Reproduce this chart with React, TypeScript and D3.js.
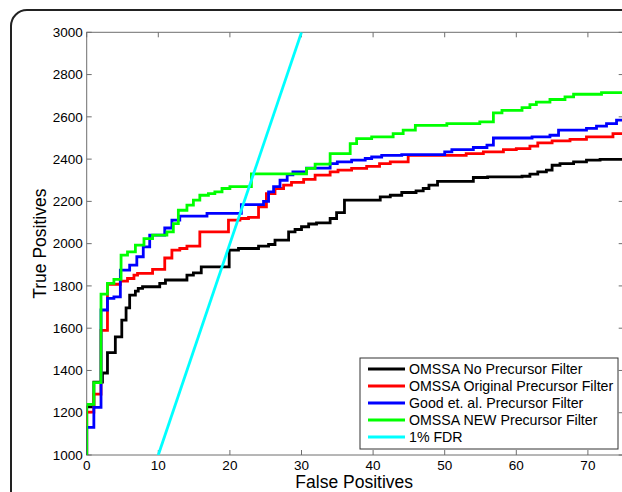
import React from 'react';
import * as d3 from 'd3';

// series as [false positives, true positives] step breakpoints
const noFilter: [number, number][] = [
  [0, 0], [0, 1228], [1, 1345], [2.2, 1388], [2.9, 1484], [4, 1559], [4.9, 1638], [5.5, 1696], [6, 1756],
  [6.8, 1775], [7.2, 1788], [7.8, 1796], [10.2, 1812], [11, 1828], [14, 1851], [14.9, 1862], [16, 1890],
  [19.9, 1969], [21.2, 1977], [24, 1988], [25.4, 1996], [26.3, 2017], [28.2, 2056], [29.1, 2067], [30, 2080],
  [31, 2093], [32.1, 2098], [34, 2119], [34.9, 2147], [36, 2206], [41, 2221], [42.4, 2229], [44, 2242],
  [46, 2250], [47, 2261], [47.8, 2277], [49, 2295], [54, 2313], [56, 2316], [60.8, 2319], [61.9, 2329],
  [63, 2340], [64.2, 2348], [65, 2371], [66.1, 2379], [68, 2387], [69.8, 2395], [71.7, 2399], [75, 2399],
];
const originalFilter: [number, number][] = [
  [0, 0], [0, 1203], [1, 1288], [2, 1590], [2.9, 1808], [4.7, 1823], [5.7, 1835], [6.6, 1851], [7.1, 1859],
  [9.2, 1878], [10.9, 1932], [11.9, 1969], [13, 1977], [14, 1988], [15.8, 2056], [19.8, 2111], [21.4, 2119],
  [22.6, 2124], [24, 2174], [25.1, 2237], [26.3, 2261], [27.5, 2277], [28.6, 2290], [30.3, 2304], [31.9, 2324],
  [34, 2340], [35.1, 2348], [37, 2356], [39.1, 2366], [40.9, 2379], [42.4, 2387], [44.9, 2418], [53, 2426],
  [55.4, 2434], [58.2, 2445], [60, 2450], [61.9, 2461], [63, 2477], [65, 2486], [67.5, 2493], [69.8, 2505],
  [73.5, 2521], [75, 2521],
];
const goodFilter: [number, number][] = [
  [0, 0], [0, 1131], [1, 1225], [2, 1686], [2.9, 1741], [3.8, 1748], [4.7, 1875], [6, 1898], [7, 1938],
  [7.9, 1985], [8.8, 2040], [10.9, 2074], [11.9, 2111], [13, 2130], [16.8, 2143], [21.6, 2185], [24.7, 2200],
  [25.4, 2245], [26.1, 2270], [27, 2300], [28, 2325], [28.8, 2340], [30.7, 2357], [34, 2379], [35, 2387],
  [37, 2395], [38.9, 2403], [39.8, 2410], [41.2, 2418], [44, 2421], [50, 2434], [51, 2445], [54, 2455],
  [55.9, 2466], [56.8, 2500], [62.2, 2505], [64.7, 2513], [65.9, 2537], [69.8, 2545], [71.2, 2556],
  [72.6, 2568], [74, 2584], [75, 2584],
];
const newFilter: [number, number][] = [
  [0, 0], [0, 1240], [1, 1342], [2, 1761], [2.9, 1812], [3.8, 1831], [4.8, 1946], [5.7, 1961], [6.8, 1993],
  [8, 2024], [9.2, 2040], [11.2, 2056], [12.1, 2095], [12.8, 2158], [14, 2182], [14.9, 2206], [15.8, 2229],
  [17, 2237], [17.9, 2245], [18.9, 2261], [20, 2270], [23, 2330], [30.7, 2356], [31.9, 2376], [34, 2426],
  [36.8, 2473], [37.7, 2497], [39.8, 2505], [42.8, 2521], [44.2, 2537], [45.9, 2560], [50.3, 2568],
  [54.9, 2576], [56.8, 2619], [58, 2631], [60.8, 2644], [61.9, 2658], [62.8, 2670], [64.7, 2682],
  [66.8, 2694], [68, 2707], [71.9, 2715], [75, 2715],
];
const fdrLine: [number, number][] = [[10, 1000], [30, 3000]];

const seriesNames = [
  'OMSSA No Precursor Filter',
  'OMSSA Original Precursor Filter',
  'Good et. al. Precursor Filter',
  'OMSSA NEW Precursor Filter',
  '1% FDR',
];
const seriesColors = ['#000000', '#ff0000', '#0000ff', '#00ff00', '#00ffff'];
const xTicks = [0, 10, 20, 30, 40, 50, 60, 70];
const yTicks = [1000, 1200, 1400, 1600, 1800, 2000, 2200, 2400, 2600, 2800, 3000];

const W = 622;
const H = 492;
const margin = { left: 86.7, top: 32.3, right: -1.7, bottom: 37 };
const font = '"Liberation Sans", Arial, Helvetica, sans-serif';

export default function App() {
  const innerW = W - margin.left - margin.right;
  const innerH = H - margin.top - margin.bottom;
  const x = d3.scaleLinear().domain([0, 75]).range([0, innerW]);
  const y = d3.scaleLinear().domain([1000, 3000]).range([innerH, 0]);

  const step = d3.line<[number, number]>().x(d => x(d[0])).y(d => y(d[1])).curve(d3.curveStepAfter);
  const straight = d3.line<[number, number]>().x(d => x(d[0])).y(d => y(d[1]));
  const curves = [noFilter, originalFilter, goodFilter, newFilter];
  const axisColor = '#6e6e6e';
  const tick = 5;

  return (
    <svg width={W} height={H} style={{ position: 'absolute', left: 0, top: 0, background: '#fff' }}>
      <rect x={11} y={10} width={660} height={540} rx={16} fill="#fff" stroke="#222" strokeWidth={2} />
      <g transform={`translate(${margin.left},${margin.top})`}>
        <defs>
          <clipPath id="plot">
            <rect x={0} y={0} width={innerW} height={innerH} />
          </clipPath>
        </defs>
        {/* axes box */}
        <rect x={0} y={0} width={innerW} height={innerH} fill="none" stroke={axisColor} strokeWidth={1} />
        {xTicks.map(t => (
          <g key={'x' + t}>
            <line x1={x(t)} x2={x(t)} y1={innerH} y2={innerH - tick} stroke={axisColor} />
            <line x1={x(t)} x2={x(t)} y1={0} y2={tick} stroke={axisColor} />
            <text x={x(t)} y={innerH + 15.5} textAnchor="middle" fontFamily={font} fontSize={13.5} fill="#000">{t}</text>
          </g>
        ))}
        {yTicks.map(t => (
          <g key={'y' + t}>
            <line x1={0} x2={tick} y1={y(t)} y2={y(t)} stroke={axisColor} />
            <line x1={innerW} x2={innerW - tick} y1={y(t)} y2={y(t)} stroke={axisColor} />
            <text x={-4} y={y(t)} dy="0.35em" textAnchor="end" fontFamily={font} fontSize={13.5} fill="#000">{t}</text>
          </g>
        ))}
        <g clipPath="url(#plot)">
          {curves.map((c, i) => (
            <path key={i} d={step(c) || ''} fill="none" stroke={seriesColors[i]} strokeWidth={2.8} />
          ))}
          <path d={straight(fdrLine) || ''} fill="none" stroke={seriesColors[4]} strokeWidth={2.8} />
        </g>
        <text x={innerW / 2 - 1} y={innerH + 33.5} textAnchor="middle" fontFamily={font} fontSize={17.5} fill="#000">False Positives</text>
        <text transform={`translate(${46 - margin.left},${innerH / 2}) rotate(-90)`} textAnchor="middle" fontFamily={font} fontSize={17.5} fill="#000">True Positives</text>
      </g>
      {/* legend */}
      <g transform="translate(360,358)">
        <rect x={0} y={0} width={258} height={91} fill="#fff" stroke="#333" strokeWidth={1} />
        {seriesNames.map((n, i) => (
          <g key={n} transform={`translate(0,${11 + i * 17})`}>
            <line x1={8} x2={45} y1={0} y2={0} stroke={seriesColors[i]} strokeWidth={2.8} />
            <text x={49} y={0} dy="0.35em" fontFamily={font} fontSize={14.2} fill="#000">{n}</text>
          </g>
        ))}
      </g>
    </svg>
  );
}
